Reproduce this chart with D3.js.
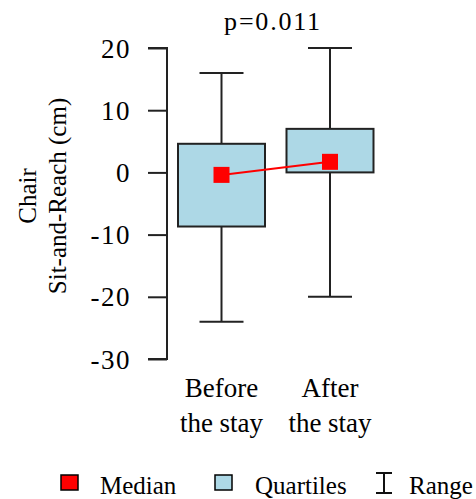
<!DOCTYPE html>
<html>
<head>
<meta charset="utf-8">
<script src="https://cdn.jsdelivr.net/npm/d3@7"></script>
<style>
  body { margin: 0; background: #fff; }
  text { font-family: "Liberation Serif", "Times New Roman", serif; fill: #000; }
</style>
</head>
<body>
<svg id="chart" width="476" height="499"></svg>
<script>
const categories = [["Before", "the stay"], ["After", "the stay"]];
const q1 = [-8.7, 0];
const q3 = [4.6, 7.0];
const medians = [-0.4, 1.7];
const mins = [-24, -20];
const maxs = [16, 20];
const yTicks = [20, 10, 0, -10, -20, -30];
const title = "p=0.011";

const svg = d3.select("#chart");

const y = d3.scaleLinear().domain([-30, 20]).range([359, 48]);
const x = d3.scalePoint().domain([0, 1]).range([221.5, 330]);
const boxW = 87, capW = 44, medS = 16;

// y axis
const yAxis = svg.append("g")
    .attr("transform", "translate(167,0)")
    .call(d3.axisLeft(y).tickValues(yTicks).tickSize(19).tickPadding(17).tickFormat(d => String(d)));
yAxis.select(".domain").attr("stroke", "#222").attr("stroke-width", 2)
    .attr("d", "M-19," + y(20) + "H0V" + y(-30) + "H-19");
yAxis.selectAll(".tick line").attr("stroke", "#222").attr("stroke-width", 2);
yAxis.selectAll(".tick text")
    .attr("font-size", 27).attr("font-family", "Liberation Serif")
    .attr("letter-spacing", 1.5).attr("dy", "0.34em");

// axis title
const yl = svg.append("text")
    .attr("transform", "translate(0,196) rotate(-90)")
    .attr("text-anchor", "middle")
    .attr("font-size", 25);
yl.append("tspan").attr("x", 0).attr("y", 36).text("Chair");
yl.append("tspan").attr("x", 0).attr("y", 66).text("Sit-and-Reach (cm)");

// plot title
svg.append("text").attr("x", 273).attr("y", 30).attr("text-anchor", "middle")
    .attr("font-size", 26).attr("letter-spacing", 1.8).text(title);

const idx = [0, 1];
// whiskers
svg.selectAll(".whisk").data(idx).join("line")
    .attr("x1", i => x(i)).attr("x2", i => x(i))
    .attr("y1", i => y(maxs[i])).attr("y2", i => y(mins[i]))
    .attr("stroke", "#222").attr("stroke-width", 2);
svg.selectAll(".capTop").data(idx).join("line")
    .attr("x1", i => x(i) - capW / 2).attr("x2", i => x(i) + capW / 2)
    .attr("y1", i => y(maxs[i])).attr("y2", i => y(maxs[i]))
    .attr("stroke", "#222").attr("stroke-width", 2);
svg.selectAll(".capBot").data(idx).join("line")
    .attr("x1", i => x(i) - capW / 2).attr("x2", i => x(i) + capW / 2)
    .attr("y1", i => y(mins[i])).attr("y2", i => y(mins[i]))
    .attr("stroke", "#222").attr("stroke-width", 2);

// boxes
svg.selectAll(".box").data(idx).join("rect")
    .attr("x", i => x(i) - boxW / 2).attr("width", boxW)
    .attr("y", i => y(q3[i])).attr("height", i => y(q1[i]) - y(q3[i]))
    .attr("fill", "#add8e6").attr("stroke", "#222").attr("stroke-width", 2);

// median line
svg.append("path")
    .datum(idx)
    .attr("d", d3.line().x(i => x(i)).y(i => y(medians[i])))
    .attr("fill", "none").attr("stroke", "#ff0000").attr("stroke-width", 2);

svg.selectAll(".med").data(idx).join("rect")
    .attr("x", i => x(i) - medS / 2).attr("y", i => y(medians[i]) - medS / 2)
    .attr("width", medS).attr("height", medS).attr("fill", "#ff0000");

// x labels
idx.forEach(i => {
  const t = svg.append("text").attr("text-anchor", "middle").attr("font-size", 27);
  t.append("tspan").attr("x", x(i)).attr("y", 397).text(categories[i][0]);
  t.append("tspan").attr("x", x(i)).attr("y", 432).text(categories[i][1]);
});

// legend
const lg = svg.append("g");
lg.append("rect").attr("x", 61).attr("y", 475).attr("width", 17).attr("height", 15)
    .attr("fill", "#ff0000").attr("stroke", "#000").attr("stroke-width", 1.5);
lg.append("text").attr("x", 100).attr("y", 494).attr("font-size", 25).text("Median");
lg.append("rect").attr("x", 215).attr("y", 475).attr("width", 17).attr("height", 15)
    .attr("fill", "#add8e6").attr("stroke", "#000").attr("stroke-width", 1.5);
lg.append("text").attr("x", 255).attr("y", 494).attr("font-size", 25).text("Quartiles");
lg.append("path").attr("d", "M376,473H392M384,473V493M376,493H392")
    .attr("fill", "none").attr("stroke", "#111").attr("stroke-width", 2);
lg.append("text").attr("x", 409).attr("y", 494).attr("font-size", 25).text("Range");
</script>
</body>
</html>
